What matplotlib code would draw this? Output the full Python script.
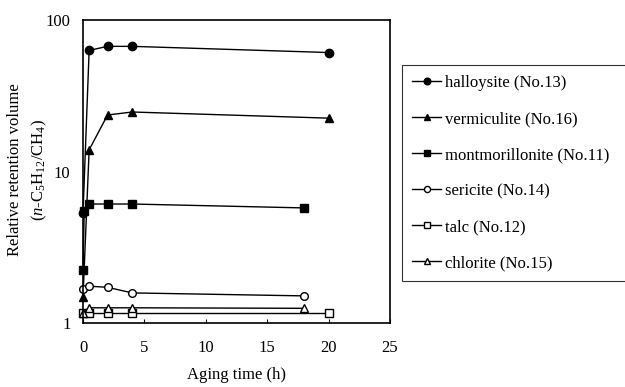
import matplotlib
matplotlib.use("Agg")
import matplotlib.pyplot as plt
from matplotlib.ticker import FixedLocator, FixedFormatter, NullLocator

plt.rcParams['font.family'] = ['Liberation Serif', 'DejaVu Serif']
plt.rcParams['mathtext.fontset'] = 'custom'
plt.rcParams['mathtext.rm'] = 'Liberation Serif'
plt.rcParams['mathtext.it'] = 'Liberation Serif:italic'

labels = ["halloysite (No.13)", "vermiculite (No.16)", "montmorillonite (No.11)",
          "sericite (No.14)", "talc (No.12)", "chlorite (No.15)"]

halloysite_x = [0, 0.5, 2, 4, 20]
halloysite_y = [5.3, 63, 67, 67, 61]
vermiculite_x = [0, 0.5, 2, 4, 20]
vermiculite_y = [1.48, 13.9, 23.6, 24.7, 22.5]
montmorillonite_x = [0, 0.1, 0.5, 2, 4, 18]
montmorillonite_y = [2.24, 5.5, 6.1, 6.1, 6.1, 5.75]
sericite_x = [0, 0.5, 2, 4, 18]
sericite_y = [1.68, 1.75, 1.72, 1.58, 1.51]
talc_x = [0, 0.5, 2, 4, 20]
talc_y = [1.16, 1.16, 1.16, 1.16, 1.16]
chlorite_x = [0, 0.5, 2, 4, 18]
chlorite_y = [1.16, 1.26, 1.26, 1.26, 1.25]

xticks = [0, 5, 10, 15, 20, 25]
yticks = [1, 10, 100]
ytick_labels = ["1", "10", "100"]

fig = plt.figure(figsize=(6.25, 3.87), dpi=100)
ax = fig.add_axes([83/625, 1-323/387, (390-83)/625, (323-20)/387])

series = [
    (halloysite_x, halloysite_y, 'o', 'k'),
    (vermiculite_x, vermiculite_y, '^', 'k'),
    (montmorillonite_x, montmorillonite_y, 's', 'k'),
    (sericite_x, sericite_y, 'o', 'w'),
    (talc_x, talc_y, 's', 'w'),
    (chlorite_x, chlorite_y, '^', 'w'),
]
handles = []
for (xs, ys, m, fc), lab in zip(series, labels):
    h, = ax.plot(xs, ys, marker=m, color='k', markerfacecolor=fc,
                 markeredgecolor='k', markersize=6 if fc == 'k' else 5.5,
                 markeredgewidth=1.0, linewidth=1.0, label=lab, clip_on=False)
    handles.append(h)

ax.set_yscale('log')
ax.set_xlim(0, 25)
ax.set_ylim(1, 100)
ax.xaxis.set_major_locator(FixedLocator(xticks))
ax.yaxis.set_major_locator(FixedLocator(yticks))
ax.yaxis.set_major_formatter(FixedFormatter(ytick_labels))
ax.yaxis.set_minor_locator(NullLocator())
ax.tick_params(axis='x', direction='in', length=3, labelsize=12, pad=12)
ax.tick_params(axis='y', length=0, labelsize=12, pad=9)
for s in ax.spines.values():
    s.set_linewidth(1.2)

ax.set_xlabel("Aging time (h)", fontsize=12, labelpad=8)
fig.text(28/625, 1-170/387,
         "Relative retention volume\n" + r"($n$-C$_5$H$_{12}$/CH$_4$)",
         rotation=90, ha='center', va='center', multialignment='center',
         fontsize=12, linespacing=1.45)

leg = fig.legend(handles=handles, loc='upper left',
                 bbox_to_anchor=(402/625, 1-280/387, 0.45, (280-65)/387),
                 mode='expand', fontsize=12, labelspacing=1.2,
                 handlelength=1.75, handletextpad=0.25, borderpad=0.6,
                 frameon=True, fancybox=False, borderaxespad=0,
                 markerscale=0.8)
leg.get_frame().set_edgecolor('k')
leg.get_frame().set_linewidth(0.8)

fig.savefig("out.png", dpi=100)
